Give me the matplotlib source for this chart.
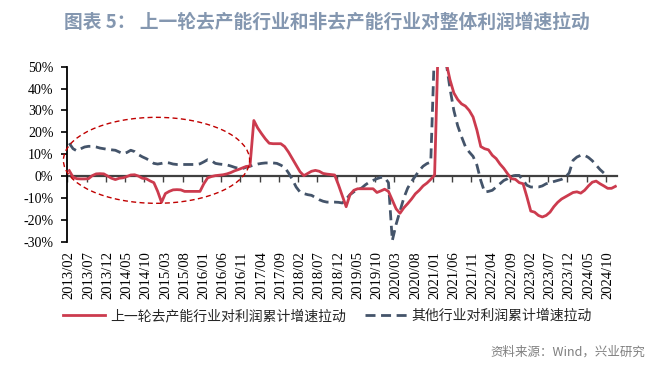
import matplotlib
matplotlib.use("Agg")
import matplotlib.pyplot as plt
from matplotlib.patches import Ellipse
from matplotlib.lines import Line2D

plt.rcParams['font.family'] = ['Noto Sans CJK SC', 'DejaVu Sans']

title = "图表 5： 上一轮去产能行业和非去产能行业对整体利润增速拉动"
series_names = ["上一轮去产能行业对利润累计增速拉动", "其他行业对利润累计增速拉动"]
source = "资料来源：Wind，兴业研究"

# monthly, 2013/02 .. 2024/12 (percent)
overcap = [
    2.5, -0.5, -1.2, -1.3, -1.3, -1.2, 0.2, 1.0, 1.1, 1.0,
    0.0, -1.0, -1.6, -1.0, -0.8, -0.2, 0.5, 0.6, 0.0, -1.0,
    -1.2, -2.2, -3.0, -7.0, -12.0, -8.0, -7.0, -6.3, -6.2, -6.3,
    -7.0, -7.0, -7.0, -7.0, -7.0, -3.5, -0.8, -0.2, 0.2, 0.4,
    0.6, 1.0, 1.6, 2.4, 3.0, 3.7, 4.4, 4.6, 25.4, 22.0,
    19.4, 17.0, 15.0, 14.8, 14.8, 14.8, 13.5, 11.0, 8.0, 5.0,
    2.0, 0.2, 1.2, 2.2, 2.6, 2.2, 1.2, 0.9, 0.7, 0.5,
    -4.0, -9.0, -14.0, -8.5, -6.5, -5.8, -5.8, -5.8, -5.8, -5.8,
    -7.5, -6.8, -6.0, -7.0, -11.0, -15.0, -17.0, -14.5, -12.6, -10.5,
    -8.1, -6.5, -4.5, -3.2, -1.5, 0.5, 65.0, 85.0, 52.0, 44.0,
    38.0, 35.0, 33.0, 32.0, 30.0, 27.0, 21.0, 13.5, 12.5, 12.0,
    9.5, 8.0, 5.5, 3.5, 1.0, -1.2, -1.5, -3.0, -3.5, -9.5,
    -16.0, -16.5, -18.0, -18.7, -18.0, -16.5, -14.0, -12.0, -10.5, -9.5,
    -8.5, -7.5, -7.2, -7.8, -6.5, -4.5, -2.8, -2.3, -3.5, -4.5,
    -5.6, -5.6, -4.7,
]

# monthly, 2013/02 .. 2024/09 (percent)
others = [
    15.0, 12.5, 11.5, 12.5, 13.3, 13.6, 13.6, 13.3, 12.8, 12.5,
    12.2, 12.0, 11.8, 11.0, 10.2, 10.8, 11.8, 11.2, 9.8, 8.8,
    8.0, 7.0, 5.8, 5.5, 5.8, 6.2, 6.0, 5.5, 5.3, 5.3,
    5.3, 5.3, 5.3, 5.3, 5.6, 6.5, 7.5, 7.0, 5.8, 5.5,
    5.3, 5.1, 4.6, 4.0, 3.5, 3.4, 4.0, 4.5, 5.0, 5.5,
    5.8, 6.0, 6.0, 6.0, 5.8, 5.0, 4.0, 1.5, -1.5, -5.0,
    -7.3, -8.0, -8.5, -8.8, -9.8, -10.8, -11.5, -11.9, -11.9, -11.9,
    -12.0, -12.3, -10.5, -8.5, -7.2, -6.0, -5.5, -4.0, -2.8, -2.0,
    -1.2, -0.6, -0.6, -3.0, -29.5, -22.0, -16.0, -10.0, -5.5, -2.5,
    0.0, 2.5, 4.5, 5.7, 6.4, 60.0, 90.0, 70.0, 52.0, 40.0,
    30.0, 23.0, 18.0, 13.5, 11.0, 9.0, 5.0, -2.0, -7.3, -7.0,
    -6.5, -5.0, -3.5, -2.0, -1.2, 0.0, 0.3, 0.3, -2.0, -4.2,
    -5.0, -5.0, -5.0, -4.5, -3.5, -3.0, -2.5, -2.0, -1.5, -0.6,
    1.5, 7.2, 8.7, 9.5, 9.5, 8.5, 7.0, 5.0, 3.0, 1.4,
]

tick_labels = [
    "2013/02", "2013/07", "2013/12", "2014/05", "2014/10", "2015/03", "2015/08",
    "2016/01", "2016/06", "2016/11", "2017/04", "2017/09", "2018/02", "2018/07",
    "2018/12", "2019/05", "2019/10", "2020/03", "2020/08", "2021/01", "2021/06",
    "2021/11", "2022/04", "2022/09", "2023/02", "2023/07", "2023/12", "2024/05",
    "2024/10",
]
y_ticks = [50, 40, 30, 20, 10, 0, -10, -20, -30]
y_labels = ["50%", "40%", "30%", "20%", "10%", "0%", "-10%", "-20%", "-30%"]

RED = "#CC3B4E"
BLUE = "#44546A"
SERIF = ['Liberation Serif', 'DejaVu Serif']

fig = plt.figure(figsize=(6.69, 3.68), dpi=100)
ax = fig.add_axes([67.3 / 669, 1 - 241.7 / 368, 550 / 669, 175 / 368])

n_red = len(overcap)
x_red = list(range(n_red))
x_blue = list(range(len(others)))

ax.plot(x_red, overcap, color=RED, lw=2.0, zorder=4, solid_joinstyle='round')
ax.plot(x_blue, others, color=BLUE, lw=2.0, zorder=3, dashes=(3.6, 2.0))

ax.set_xlim(-0.5, n_red - 0.5)
ax.set_ylim(-30, 50)

# y axis
ax.set_yticks(y_ticks)
ax.set_yticklabels(y_labels)
for t in ax.get_yticklabels():
    t.set_fontfamily(SERIF)
    t.set_fontsize(10)
ax.tick_params(axis='y', direction='out', length=4, width=1.2, pad=6, colors='black')
ax.spines['left'].set_linewidth(1.3)
ax.spines['top'].set_visible(False)
ax.spines['right'].set_visible(False)

# x axis line at zero with ticks between categories
ax.spines['bottom'].set_position(('data', 0))
ax.spines['bottom'].set_color('#404040')
ax.spines['bottom'].set_linewidth(1.6)
ax.spines['bottom'].set_zorder(2)
label_pos = [5 * k for k in range(len(tick_labels))]
ax.set_xticks([p - 0.5 for p in label_pos])
ax.set_xticklabels([])
ax.tick_params(axis='x', direction='out', length=4, width=1.0, colors='#404040')

sec = ax.secondary_xaxis(0.0)
sec.set_xticks(label_pos)
sec.set_xticklabels(tick_labels, rotation=90)
for t in sec.get_xticklabels():
    t.set_fontfamily(SERIF)
    t.set_fontsize(10.5)
sec.tick_params(length=0, pad=7)
sec.spines['bottom'].set_visible(False)

# highlight ellipse
ell = Ellipse((22.7, 7.2), 48.4, 39.3, fill=False, ec='#C00000', lw=1.0,
              ls=(0, (3.6, 2.4)), clip_on=False, zorder=5)
ax.add_patch(ell)

# title
fig.text(0.489, 1 - 22 / 368, title, ha='center', va='center', fontsize=13.5,
         fontweight='bold', color='#8497B0')

# legend
handles = [Line2D([], [], color=RED, lw=2.0),
           Line2D([], [], color=BLUE, lw=2.0, dashes=(3.6, 2.0))]
fig.legend(handles, series_names, loc='center', bbox_to_anchor=(0.49, 1 - 316 / 368),
           ncol=2, frameon=False, fontsize=10, handlelength=3.0, handletextpad=0.35,
           columnspacing=1.4, labelcolor='#262626')

# source
fig.text(645 / 669, 1 - 352 / 368, source, ha='right', va='center', fontsize=9,
         color='#7F7F7F')

fig.savefig("out.png", dpi=100)
